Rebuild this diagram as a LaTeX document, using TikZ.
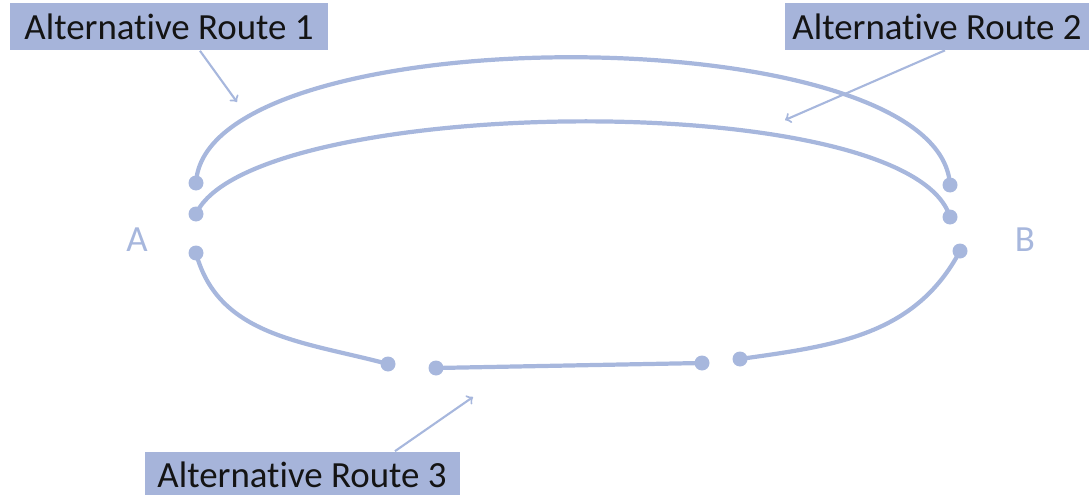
\documentclass[tikz,border=0pt]{standalone}
\usepackage{fontspec}
\setmainfont{Carlito}[RawFeature={-liga;-clig;-calt;-dlig}]
\usepackage{tikz}
\usetikzlibrary{arrows,calc,positioning}
\usepackage{xcolor}

\definecolor{routeblue}{RGB}{167,183,221}
\definecolor{boxblue}{RGB}{166,180,218}
\definecolor{boxtext}{RGB}{20,20,20}

\tikzset{
  route/.style={draw=routeblue, line width=2.4pt, line cap=round},
  pin/.style={circle, fill=routeblue, inner sep=0pt, minimum size=0.3cm},
  label box/.style={fill=boxblue, text=boxtext, inner sep=0pt, minimum height=0.94cm, font=\fontsize{21}{25}\selectfont},
  pointer/.style={->, draw=routeblue, line width=1.2pt},
  town/.style={text=routeblue, font=\fontsize{21}{25}\selectfont}
}

\begin{document}
\begin{tikzpicture}

\useasboundingbox (0,0) rectangle (21.78,-9.9);

% boites
\node[label box, minimum width=6.36cm] (box1) at (3.38,-0.54) {Alternative Route 1};
\node[label box, minimum width=6.1cm] (box2) at (18.74,-0.53) {Alternative Route 2};
\node[label box, minimum width=6.3cm] (box3) at (6.04,-9.5) {Alternative Route 3};

% villes
\node[town] (A) at (2.74,-4.8) {A};
\node[town] (B) at (20.5,-4.8) {B};

% extremites
\node[pin] (a1) at (3.92,-3.66) {};
\node[pin] (b1) at (19.0,-3.7) {};
\node[pin] (a2) at (3.92,-4.28) {};
\node[pin] (b2) at (19.0,-4.34) {};
\node[pin] (a3) at (3.92,-5.06) {};
\node[pin] (c1) at (7.76,-7.28) {};
\node[pin] (c2) at (8.72,-7.36) {};
\node[pin] (c3) at (14.04,-7.26) {};
\node[pin] (c4) at (14.8,-7.18) {};
\node[pin] (b3) at (19.2,-5.02) {};

% routes
\draw[route] (a1.center) .. controls (4.1,-0.3) and (18.8,-0.3) .. (b1.center);
\draw[route] (a2.center) .. controls (5.0,-1.9) and (18.2,-1.7) .. (b2.center);
\draw[route] (a3.center) to[out=-75, in=165] (c1.center);
\draw[route] (c2.center) -- (c3.center);
\draw[route] (c4.center) to[out=8, in=-118] (b3.center);

% fleches
\coordinate (t1) at (4.74,-2.04);
\coordinate (t2) at (15.7,-2.4);
\coordinate (t3) at (9.46,-7.94);
\draw[pointer] ($(box1.south)+(0.62,0)$) -- (t1);
\draw[pointer] ($(box2.south)+(0.16,0)$) -- (t2);
\draw[pointer] ($(box3.north)+(1.86,0)$) -- (t3);

\end{tikzpicture}
\end{document}
